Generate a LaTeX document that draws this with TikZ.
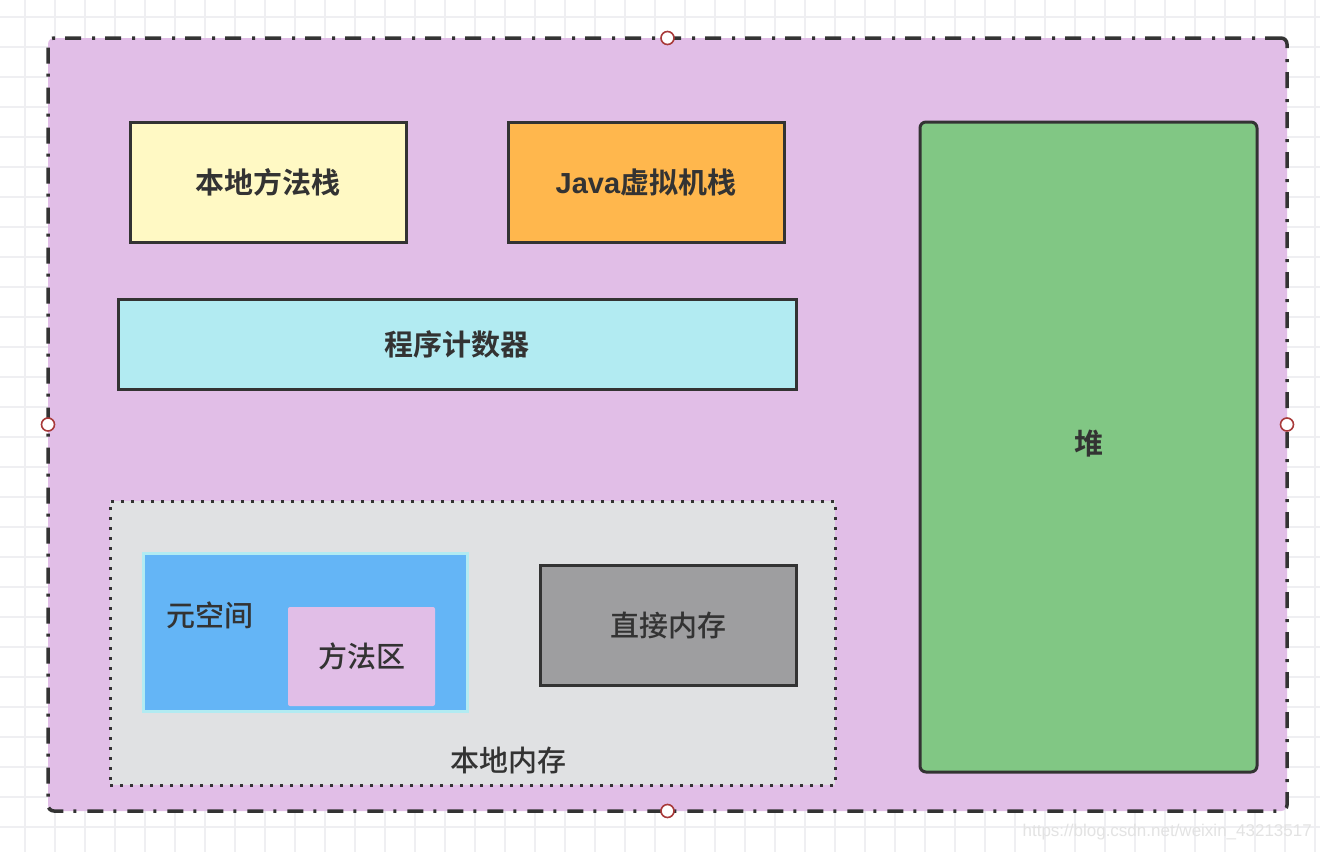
\documentclass[tikz,border=0pt]{standalone}
\usepackage{fontspec}
\setmainfont{Noto Sans CJK SC}[BoldFont={Noto Sans CJK SC Bold}]
\newfontfamily\med{Noto Sans CJK SC Medium}
\newfontfamily\lat{Liberation Sans}
\definecolor{ink}{HTML}{333333}
\definecolor{bgpurple}{HTML}{E1BEE7}
\definecolor{cyellow}{HTML}{FFF9C4}
\definecolor{corange}{HTML}{FFB74D}
\definecolor{ccyan}{HTML}{B2EBF2}
\definecolor{cgreen}{HTML}{81C784}
\definecolor{cgray}{HTML}{E0E1E3}
\definecolor{cblue}{HTML}{64B5F6}
\definecolor{cdgray}{HTML}{9E9EA0}
\definecolor{gridc}{HTML}{EFEFF2}
\definecolor{handle}{HTML}{A83A3A}
\tikzset{
  box/.style={draw=ink, line width=3pt, inner sep=0pt, outer sep=0pt, rectangle, text=ink},
  bold/.style={font=\fontsize{29}{32}\selectfont\bfseries},
  reg/.style={font=\med\fontsize{29}{32}\selectfont},
  lbl/.style={text=ink, inner sep=0pt},
  hdl/.style={circle, draw=handle, fill=white, line width=1.6pt, minimum size=13pt, inner sep=0pt},
}
\begin{document}
\begin{tikzpicture}[x=1pt,y=-1pt]
\useasboundingbox (0,0) rectangle (1320,852);
\fill[white] (0,0) rectangle (1320,852);
% grid
\foreach \gx in {25,55,...,1315} \draw[gridc, line width=1.5pt] (\gx,0) -- (\gx,852);
\foreach \gy in {17,47,...,850} \draw[gridc, line width=1.5pt] (0,\gy) -- (1320,\gy);
% outer frame
\node[draw=ink, fill=bgpurple, line width=3.5pt, rounded corners=6pt, dash pattern=on 16pt off 10pt on 3pt off 11pt, minimum width=1239pt, minimum height=773pt, inner sep=0pt, outer sep=0pt] (frame) at (667.5,424.5) {};
% boxes
\node[box, fill=cyellow, minimum width=276pt, minimum height=120pt, bold] (native) at (268,182) {本地方法栈};
\node[box, fill=corange, minimum width=276pt, minimum height=120pt, bold] (jvm) at (646,182) {{\lat Java}虚拟机栈};
\node[box, fill=ccyan, minimum width=678pt, minimum height=90pt, bold] (pc) at (457,344) {程序计数器};
\node[box, fill=cgreen, rounded corners=6pt, minimum width=337pt, minimum height=650pt, bold] (heap) at (1088.5,447) {};
\node[lbl, bold] (heaplbl) at (1089,444) {堆};
% native memory
\node[draw=ink, fill=cgray, line width=3pt, dash pattern=on 3pt off 7pt, minimum width=725pt, minimum height=284pt, inner sep=0pt, outer sep=0pt] (nm) at (472.5,643) {};
\node[lbl, reg] (nmlbl) at (508,760) {本地内存};
\node[draw=ccyan, fill=cblue, line width=3pt, minimum width=324pt, minimum height=158pt, inner sep=0pt, outer sep=0pt] (meta) at (305,632) {};
\node[lbl, reg] (metalbl) at (210,615) {元空间};
\node[fill=bgpurple, rounded corners=2pt, minimum width=147pt, minimum height=99pt, inner sep=0pt, outer sep=0pt, reg, text=ink] (method) at (361.5,656.5) {方法区};
\node[box, fill=cdgray, minimum width=256pt, minimum height=120pt, reg] (direct) at (668,625) {直接内存};
% handles
\node[hdl] (h1) at (frame.north) {};
\node[hdl] (h2) at (frame.south) {};
\node[hdl] (h3) at (frame.west) {};
\node[hdl] (h4) at (frame.east) {};
% watermark
\node[text=gray!22, font=\lat\fontsize{17}{20}\selectfont, anchor=east, inner sep=0pt] (wm) at (1312,832) {https://blog.csdn.net/weixin\_43213517};
\end{tikzpicture}
\end{document}
